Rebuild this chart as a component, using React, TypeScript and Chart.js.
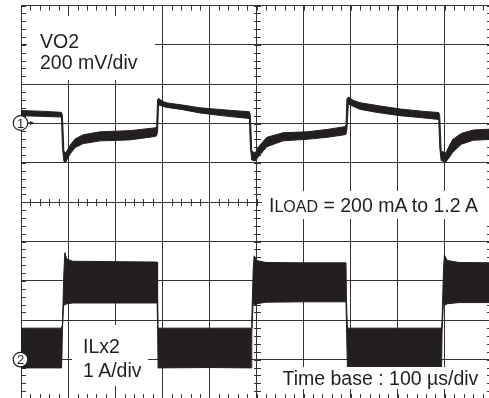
import React, { useEffect, useRef } from 'react';
import { Chart, registerables } from 'chart.js';

Chart.register(...registerables);

// ---- Data read from the scope capture (time in µs, 100 µs/div) ----
// VO2 (channel 1, 200 mV/div) – upper and lower envelope of the noisy trace, mV from ref marker 1
const vo2TimeUs = [
  0, 40, 86, 88, 91, 95, 100, 105, 115, 132, 168, 231, 284, 288,
  290, 292, 300, 310, 340, 380, 420, 450, 485,
  487, 490, 497, 507, 522, 556, 607, 650, 684, 690,
  692, 695, 705, 720, 760, 805, 850, 887,
  889, 892, 902, 910, 917, 935, 960, 1000,
];
const vo2UpperMv = [
  66, 63, 57, 40, -140, -150, -128, -108, -78, -57, -42, -36, -22, -16,
  120, 128, 113, 105, 95, 80, 72, 66, 60,
  40, -140, -150, -110, -70, -47, -42, -30, -17, -12,
  125, 135, 118, 106, 90, 74, 63, 56,
  40, -140, -150, -110, -80, -50, -33, -28,
];
const vo2LowerMv = [
  40, 37, 33, -120, -192, -195, -172, -152, -122, -102, -88, -83, -66, -62,
  -40, 95, 88, 82, 72, 54, 42, 34, 26,
  -120, -185, -190, -160, -118, -88, -80, -70, -58, -55,
  -30, 100, 88, 72, 55, 40, 30, 21,
  -120, -188, -195, -170, -145, -105, -85, -80,
];

// ILx2 (channel 2, 1 A/div) – upper and lower envelope of the ripple band, A from ref marker 2
const ilTimeUs = [
  0, 86, 87, 88, 91, 93, 97, 110, 200, 288, 289, 290, 291,
  400, 489, 490, 493, 495, 500, 520, 600, 690, 691, 693,
  800, 893, 894, 897, 899, 905, 930, 1000,
];
const ilUpperA = [
  0.8, 0.8, 0.8, 0.9, 2.2, 2.72, 2.56, 2.5, 2.49, 2.48, 2.48, 1.44, 0.8,
  0.8, 0.8, 1.0, 2.3, 2.64, 2.52, 2.47, 2.46, 2.46, 1.5, 0.8,
  0.8, 0.8, 1.0, 2.3, 2.66, 2.52, 2.47, 2.46,
];
const ilLowerA = [
  -0.21, -0.21, -0.21, 0.75, 1.6, 1.38, 1.42, 1.44, 1.44, 1.44, 1.44, 0.9, -0.21,
  -0.2, -0.21, 0.7, 1.5, 1.38, 1.42, 1.46, 1.47, 1.47, 0.9, -0.2,
  -0.19, -0.19, 0.7, 1.5, 1.38, 1.42, 1.45, 1.45,
];

// Screen: 10 x 10 divisions
const timeRangeUs = [0, 1000];
const timePerDivUs = 100;
const divRange = [-5, 5];
const vo2RangeMv = [-1400, 600]; // ref 1 sits 2 div above centre
const ilRangeA = [-1, 9]; // ref 2 sits 4 div below centre

const vo2Labels = ['VO2', '200 mV/div'];
const ilLabels = ['ILx2', '1 A/div'];
const loadLabel = ['I', 'LOAD', ' = 200 mA to 1.2 A'];
const timeLabel = 'Time base : 100 µs/div';

const TRACE = '#231f20';
const GRID = '#333333';
const FONT = '"Liberation Sans", Arial, Helvetica, sans-serif';

function drawScopeTicks(chart: any) {
  const ctx = chart.ctx;
  const area = chart.chartArea;
  const xs = chart.scales['x'];
  const ys = chart.scales['y'];
  if (!ctx || !area || !xs || !ys) return;
  const { left, right, top, bottom } = area;
  const cx = Math.round(xs.getPixelForValue((timeRangeUs[0] + timeRangeUs[1]) / 2)) + 0.5;
  const cy = Math.round(ys.getPixelForValue(0)) + 0.5;
  ctx.save();
  ctx.strokeStyle = GRID;
  ctx.lineWidth = 1;
  ctx.beginPath();
  const subX = timePerDivUs / 5;
  const nX = Math.round((timeRangeUs[1] - timeRangeUs[0]) / subX);
  for (let i = 0; i <= nX; i++) {
    const px = Math.round(xs.getPixelForValue(timeRangeUs[0] + i * subX)) + 0.5;
    ctx.moveTo(px, top);
    ctx.lineTo(px, top + 5);
    ctx.moveTo(px, bottom);
    ctx.lineTo(px, bottom - 5);
    ctx.moveTo(px, cy - 3.5);
    ctx.lineTo(px, cy + 3.5);
  }
  const nY = Math.round((divRange[1] - divRange[0]) * 5);
  for (let j = 0; j <= nY; j++) {
    const py = Math.round(ys.getPixelForValue(divRange[0] + j * 0.2)) + 0.5;
    ctx.moveTo(left, py);
    ctx.lineTo(left + 5, py);
    ctx.moveTo(right, py);
    ctx.lineTo(right - 5, py);
    ctx.moveTo(cx - 3.5, py);
    ctx.lineTo(cx + 3.5, py);
  }
  ctx.stroke();
  ctx.restore();
}

function band(times: number[], vals: number[]) {
  return times.map((t, i) => ({ x: t, y: vals[i] }));
}

export default function App() {
  const canvasRef = useRef<HTMLCanvasElement | null>(null);

  useEffect(() => {
    const canvas = canvasRef.current;
    if (!canvas) return;
    const common = {
      borderColor: TRACE,
      backgroundColor: TRACE,
      borderWidth: 1,
      pointRadius: 0,
      tension: 0,
    };
    const chart = new Chart(canvas, {
      type: 'line',
      data: {
        datasets: [
          { ...common, label: 'VO2 upper', data: band(vo2TimeUs, vo2UpperMv), yAxisID: 'yV', fill: '+1' },
          { ...common, label: 'VO2 lower', data: band(vo2TimeUs, vo2LowerMv), yAxisID: 'yV', fill: false },
          { ...common, label: 'ILx2 upper', data: band(ilTimeUs, ilUpperA), yAxisID: 'yI', fill: '+1' },
          { ...common, label: 'ILx2 lower', data: band(ilTimeUs, ilLowerA), yAxisID: 'yI', fill: false },
        ],
      },
      options: {
        responsive: false,
        animation: false,
        devicePixelRatio: 1,
        layout: { padding: { left: 21, top: 5.5, right: 4, bottom: 3 } },
        plugins: { legend: { display: false }, tooltip: { enabled: false } },
        scales: {
          x: {
            type: 'linear',
            min: timeRangeUs[0],
            max: timeRangeUs[1],
            ticks: { display: false, stepSize: timePerDivUs },
            grid: { color: GRID, lineWidth: 1, drawTicks: false },
            border: { color: GRID, width: 1 },
          },
          y: {
            type: 'linear',
            min: divRange[0],
            max: divRange[1],
            ticks: { display: false, stepSize: 1 },
            grid: { color: GRID, lineWidth: 1, drawTicks: false },
            border: { color: GRID, width: 1 },
          },
          yV: { type: 'linear', display: false, min: vo2RangeMv[0], max: vo2RangeMv[1] },
          yI: { type: 'linear', display: false, min: ilRangeA[0], max: ilRangeA[1] },
        },
      } as any,
      plugins: [{ id: 'scopeTicks', beforeDatasetsDraw: drawScopeTicks } as any],
    });
    return () => chart.destroy();
  }, []);

  const textStyle = { fontFamily: FONT, fontSize: 19.5, fill: TRACE } as any;

  return (
    <div
      style={{
        position: 'fixed',
        left: 0,
        top: 0,
        width: 489,
        height: 398,
        overflow: 'hidden',
        background: '#fff',
      }}
    >
      <canvas ref={canvasRef} width={496} height={402} style={{ position: 'absolute', left: 0, top: 0 }} />
      <svg width={489} height={398} style={{ position: 'absolute', left: 0, top: 0 }}>
        <rect x={27} y={16} width={128} height={64} fill="#fff" />
        <rect x={72} y={325} width={76} height={61} fill="#fff" />
        <rect x={262} y={191} width={230} height={28} fill="#fff" />
        <rect x={278} y={367} width={208} height={22} fill="#fff" />

        <text x={40} y={48} style={textStyle}>{vo2Labels[0]}</text>
        <text x={40} y={68.5} style={textStyle}>{vo2Labels[1]}</text>

        <text x={269} y={212} style={textStyle}>
          {loadLabel[0]}
          <tspan style={{ fontSize: 16 }}>{loadLabel[1]}</tspan>
          {loadLabel[2]}
        </text>

        <text x={83} y={353} style={textStyle}>{ilLabels[0]}</text>
        <text x={83} y={377} style={textStyle}>{ilLabels[1]}</text>

        <text x={282.5} y={385} style={textStyle}>{timeLabel}</text>

        <line x1={28} y1={123} x2={33} y2={123} stroke={TRACE} strokeWidth={1} />
        <polygon points="34,123 30,121 30,125" fill={TRACE} />
        <circle cx={20.5} cy={123} r={7.3} fill="#fff" stroke={TRACE} strokeWidth={1.2} />
        <text x={20.5} y={127.5} textAnchor="middle" style={{ fontFamily: FONT, fontSize: 13, fill: TRACE }}>1</text>

        <circle cx={20.5} cy={359.6} r={7.3} fill="#fff" stroke={TRACE} strokeWidth={1.2} />
        <text x={20.5} y={364.1} textAnchor="middle" style={{ fontFamily: FONT, fontSize: 13, fill: TRACE }}>2</text>
      </svg>
    </div>
  );
}
